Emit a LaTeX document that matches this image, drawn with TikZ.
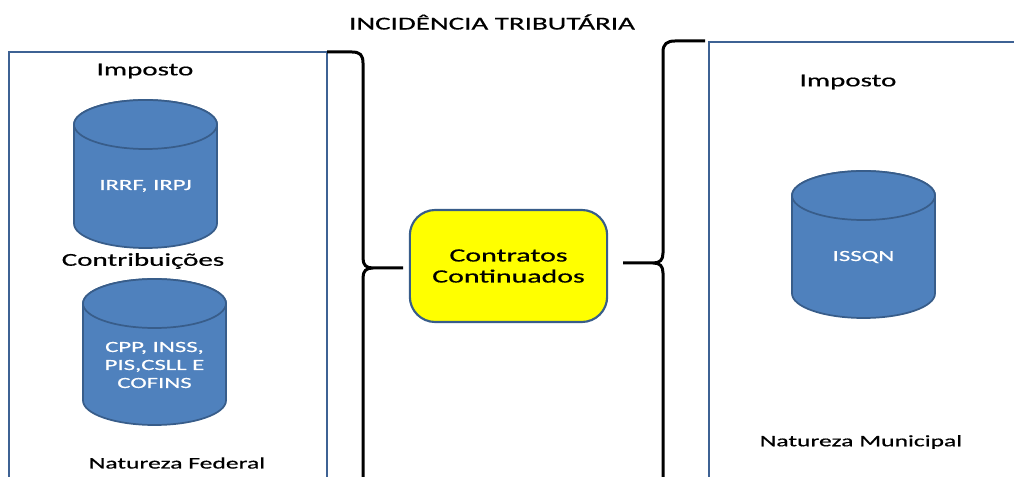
\documentclass[tikz,border=0pt]{standalone}
\usepackage{fontspec}
\setmainfont[FakeStretch=1.6,FakeBold=0.6]{Carlito}

\begin{document}
\begin{tikzpicture}[x=0.75pt,y=0.75pt,yscale=-1,xscale=1,
  panel/.style={color={rgb, 255:red, 62; green, 98; blue, 148}, line width=1.9pt},
  brace/.style={line width=2.25pt, line join=round},
  can/.style={color={rgb, 255:red, 56; green, 93; blue, 138}, fill={rgb, 255:red, 79; green, 129; blue, 189}, line width=1.3pt},
  cantext/.style={text=white, font=\fontsize{11.6}{13.5}\selectfont, align=center, inner sep=0.75pt},
  heading/.style={font=\fontsize{13.6}{16}\selectfont, inner sep=0.75pt},
  nature/.style={font=\fontsize{12}{14}\selectfont, inner sep=0.75pt},
  contract/.style={draw={rgb, 255:red, 56; green, 93; blue, 138}, fill={rgb, 255:red, 255; green, 255; blue, 0}, line width=1.6pt, rounded corners=19pt, minimum width=148pt, minimum height=84pt, align=center, font=\fontsize{14}{15.75}\selectfont}]
\useasboundingbox (0,0) rectangle (1014,477);

%Shape: Rectangle [left panel]
\draw [panel] (9,480) -- (9,52) -- (327,52) -- (327,480) ;
%Shape: Rectangle [right panel]
\draw [panel] (709,480) -- (709,42) -- (1020,42) ;

%Shape: Can [IRRF]
\draw [can] (74,124.5) -- (74,223.5) .. controls (74,237.03) and (106.01,248) .. (145.5,248) .. controls (184.99,248) and (217,237.03) .. (217,223.5) -- (217,124.5) .. controls (217,110.97) and (184.99,100) .. (145.5,100) .. controls (106.01,100) and (74,110.97) .. (74,124.5) -- cycle ;
\draw [can] (74,124.5) .. controls (74,110.97) and (106.01,100) .. (145.5,100) .. controls (184.99,100) and (217,110.97) .. (217,124.5) .. controls (217,138.03) and (184.99,149) .. (145.5,149) .. controls (106.01,149) and (74,138.03) .. (74,124.5) -- cycle ;
%Shape: Can [CPP]
\draw [can] (83,303.5) -- (83,400.5) .. controls (83,414.03) and (115.01,425) .. (154.5,425) .. controls (193.99,425) and (226,414.03) .. (226,400.5) -- (226,303.5) .. controls (226,289.97) and (193.99,279) .. (154.5,279) .. controls (115.01,279) and (83,289.97) .. (83,303.5) -- cycle ;
\draw [can] (83,303.5) .. controls (83,289.97) and (115.01,279) .. (154.5,279) .. controls (193.99,279) and (226,289.97) .. (226,303.5) .. controls (226,317.03) and (193.99,328) .. (154.5,328) .. controls (115.01,328) and (83,317.03) .. (83,303.5) -- cycle ;
%Shape: Can [ISSQN]
\draw [can] (792,195.5) -- (792,293.5) .. controls (792,307.03) and (824.01,318) .. (863.5,318) .. controls (902.99,318) and (935,307.03) .. (935,293.5) -- (935,195.5) .. controls (935,181.97) and (902.99,171) .. (863.5,171) .. controls (824.01,171) and (792,181.97) .. (792,195.5) -- cycle ;
\draw [can] (792,195.5) .. controls (792,181.97) and (824.01,171) .. (863.5,171) .. controls (902.99,171) and (935,181.97) .. (935,195.5) .. controls (935,209.03) and (902.99,220) .. (863.5,220) .. controls (824.01,220) and (792,209.03) .. (792,195.5) -- cycle ;

% Text Node
\node (title) at (492,22) [heading] {INCIDÊNCIA TRIBUTÁRIA};
% Text Node
\node (impL) at (145,71) [heading] {Imposto};
% Text Node
\node (irrf) at (145.5,186) [cantext] {IRRF, IRPJ};
% Text Node
\node (contrib) at (143,261) [heading] {Contribuições};
% Text Node
\node (cpp) at (154.5,365) [cantext] {CPP, INSS,\\PIS,CSLL E\\COFINS};
% Text Node
\node (natfed) at (177,463) [nature] {Natureza Federal};
% Text Node
\node (impR) at (848,82) [heading] {Imposto};
% Text Node
\node (issqn) at (863.5,257) [cantext] {ISSQN};
% Text Node
\node (natmun) at (861,442) [nature] {Natureza Municipal};
% Rounded Rect
\node (cc) at (508.5,266) [contract] {Contratos\\Continuados};

\coordinate (lt) at (403,268);
\coordinate (rt) at (623,263);
%Curve Lines [left brace]
\draw [brace] (327,52) -- (352,52) .. controls (360,52) and (363,55) .. (363,63) -- (363,258) .. controls (363,265) and (366,268) .. (373,268) -- (lt) (373,268) .. controls (366,268) and (363,271) .. (363,278) -- (363,480) ;
%Curve Lines [right brace]
\draw [brace] (705,41) -- (675,41) .. controls (667,41) and (663,44) .. (663,52) -- (663,253) .. controls (663,260) and (660,263) .. (653,263) -- (rt) (653,263) .. controls (660,263) and (663,266) .. (663,273) -- (663,480) ;
\end{tikzpicture}
\end{document}
